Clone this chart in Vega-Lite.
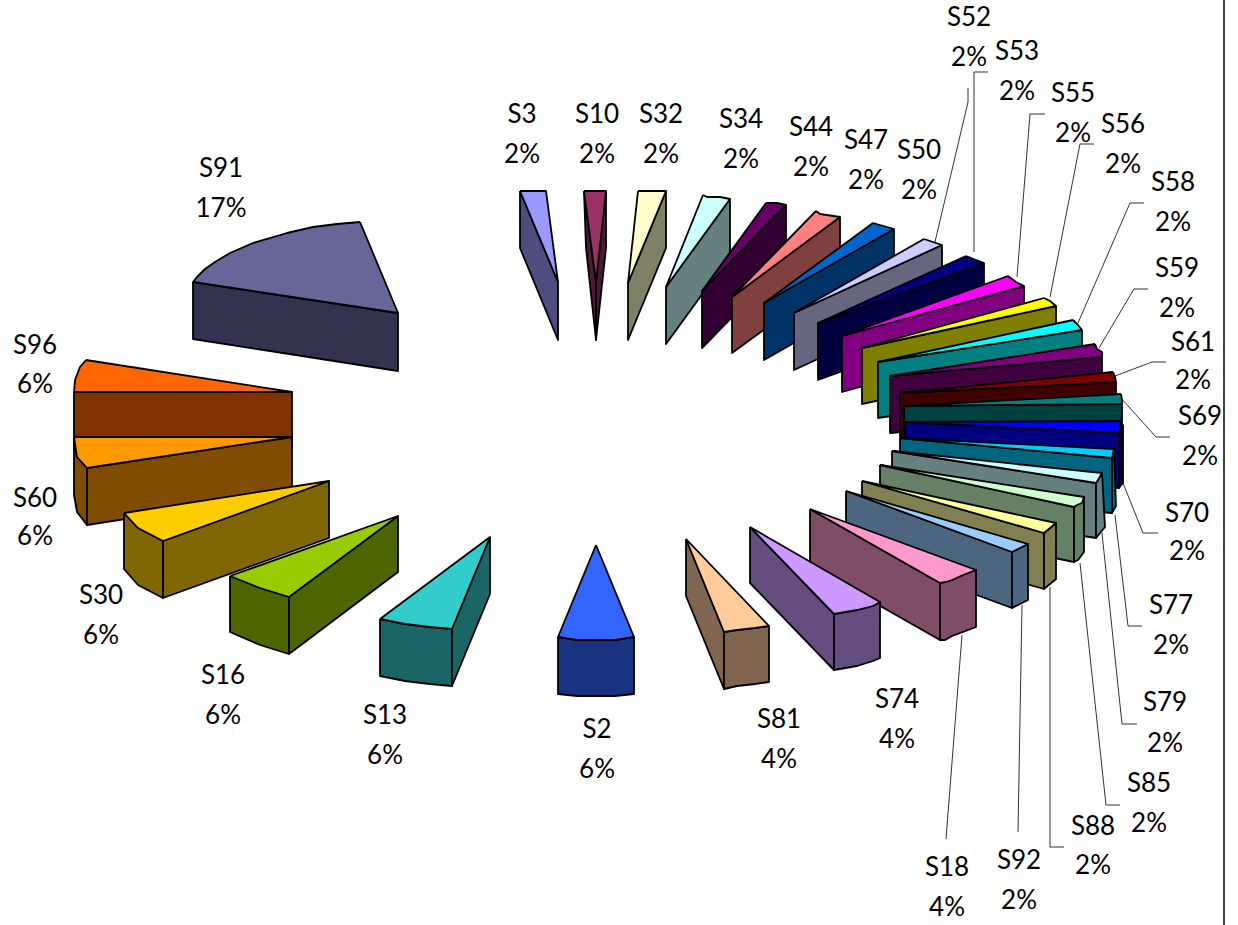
{
"$schema":"https://vega.github.io/schema/vega-lite/v6.json",
"width":1238,"height":925,"autosize":{"type":"none"},"padding":0,"background":"white",
"config":{"view":{"stroke":null}},
"datasets":{
"faces":[
{"face":"S3 side","part":"S3 side","x":[520,558,558,520,520],"y":[191,282,340,248,191]},
{"face":"S3 top","part":"S3 top","x":[520,546,558,520],"y":[191,191,282,191]},
{"face":"S10 side","part":"S10 side a","x":[584,596,596,586,584],"y":[191,282,340,248,191]},
{"face":"S10 side","part":"S10 side b","x":[606,596,596,606,606],"y":[191,282,340,248,191]},
{"face":"S10 top","part":"S10 top","x":[584,606,596,584],"y":[191,191,282,191]},
{"face":"S32 side","part":"S32 side","x":[666,666,628,628,666],"y":[191,248,340,283,191]},
{"face":"S32 top","part":"S32 top","x":[638,666,628,638],"y":[191,191,283,191]},
{"face":"S34 side","part":"S34 side","x":[730,730,666,666,730],"y":[199,256,344,287,199]},
{"face":"S34 top","part":"S34 top","x":[703,707,720,730,666,703],"y":[195,197,197,199,287,195]},
{"face":"S44 side","part":"S44 side","x":[786,786,702,702,786],"y":[205,262,348,291,205]},
{"face":"S44 top","part":"S44 top","x":[766,777,786,702,766],"y":[203,203,205,291,203]},
{"face":"S47 side","part":"S47 side","x":[840,840,732,732,840],"y":[217,274,353,297,217]},
{"face":"S47 top","part":"S47 top","x":[816,820,840,732,816],"y":[211,214,217,297,211]},
{"face":"S50 side","part":"S50 side","x":[894,894,764,764,894],"y":[229,286,360,303,229]},
{"face":"S50 top","part":"S50 top","x":[873,880,894,764,873],"y":[223,225,229,303,223]},
{"face":"S52 side","part":"S52 side","x":[942,942,794,794,942],"y":[245,302,370,313,245]},
{"face":"S52 top","part":"S52 top","x":[924,933,942,794,924],"y":[239,242,245,313,239]},
{"face":"S53 side","part":"S53 side","x":[984,984,818,818,984],"y":[263,320,380,323,263]},
{"face":"S53 top","part":"S53 top","x":[966,976,984,818,966],"y":[256,260,263,323,256]},
{"face":"S55 side","part":"S55 side","x":[1024,1024,842,842,1024],"y":[286,342,392,336,286]},
{"face":"S55 top","part":"S55 top","x":[1008,1016,1024,842,1008],"y":[276,282,286,336,276]},
{"face":"S56 side","part":"S56 side","x":[1056,1056,862,862,1056],"y":[306,362,404,348,306]},
{"face":"S56 top","part":"S56 top","x":[1044,1050,1056,862,1044],"y":[298,301,306,348,298]},
{"face":"S58 side","part":"S58 side","x":[1082,1082,878,878,1082],"y":[330,386,418,362,330]},
{"face":"S58 top","part":"S58 top","x":[1073,1078,1082,878,1073],"y":[320,325,330,362,320]},
{"face":"S59 side","part":"S59 side","x":[1102,1102,890,890,1102],"y":[357,413,433,376,357]},
{"face":"S59 top","part":"S59 top","x":[1095,1097,1102,1102,890,1095],"y":[344,349,352,357,376,344]},
{"face":"S61 side","part":"S61 side","x":[1116,1116,900,900,1116],"y":[382,438,437,393,382]},
{"face":"S61 top","part":"S61 top","x":[1113,1115,1116,900,1113],"y":[372,377,382,393,372]},
{"face":"S69 side","part":"S69 side","x":[1122,1122,904,904,1122],"y":[404,461,463,406,404]},
{"face":"S69 top","part":"S69 top","x":[1121,1122,1122,904,1121],"y":[394,400,404,406,394]},
{"face":"S70 edge","part":"S70 edge","x":[1119,1123,1123,1119,1119],"y":[433,425,483,488,433]},
{"face":"S70 side","part":"S70 side","x":[905,1119,1119,905,905],"y":[422,433,488,478,422]},
{"face":"S70 top","part":"S70 top","x":[1121,1121,1119,905,1121],"y":[421,425,433,422,421]},
{"face":"S77 side","part":"S77 side","x":[900,1112,1112,900,900],"y":[438,458,513,494,438]},
{"face":"S77 side","part":"S77 end","x":[1112,1114,1116,1112,1112],"y":[458,449,506,513,458]},
{"face":"S77 top","part":"S77 top","x":[900,1114,1112,900],"y":[438,449,458,438]},
{"face":"S79 side","part":"S79 side","x":[892,1096,1096,892,892],"y":[451,483,538,507,451]},
{"face":"S79 side","part":"S79 end","x":[1096,1102,1105,1096,1096],"y":[483,473,527,538,483]},
{"face":"S79 top","part":"S79 top","x":[892,1102,1098,1096,892],"y":[451,473,480,483,451]},
{"face":"S85 side","part":"S85 side","x":[880,1074,1074,880,880],"y":[465,507,562,522,465]},
{"face":"S85 side","part":"S85 end","x":[1074,1084,1084,1078,1074,1074],"y":[507,497,552,560,562,507]},
{"face":"S85 top","part":"S85 top","x":[880,1084,1082,1077,1074,880],"y":[465,497,503,505,507,465]},
{"face":"S88 side","part":"S88 side","x":[862,1044,1044,862,862],"y":[481,533,589,538,481]},
{"face":"S88 side","part":"S88 end","x":[1044,1056,1056,1044,1044],"y":[533,523,579,589,533]},
{"face":"S88 top","part":"S88 top","x":[862,1056,1050,1044,862],"y":[481,523,528,533,481]},
{"face":"S92 side","part":"S92 side","x":[846,1012,1012,846,846],"y":[491,552,608,547,491]},
{"face":"S92 side","part":"S92 end","x":[1012,1028,1028,1012,1012],"y":[552,544,600,608,552]},
{"face":"S92 top","part":"S92 top","x":[846,1028,1012,846],"y":[491,544,552,491]},
{"face":"S18 side","part":"S18 side","x":[810,940,940,810,810],"y":[509,583,640,566,509]},
{"face":"S18 side","part":"S18 end","x":[940,952,963,976,976,963,952,945,940,940],"y":[583,580,575,570,627,632,636,640,640,583]},
{"face":"S18 top","part":"S18 top","x":[810,976,963,952,946,940,810],"y":[509,570,575,580,582,583,509]},
{"face":"S74 side","part":"S74 side","x":[750,834,834,750,750],"y":[527,614,670,583,527]},
{"face":"S74 side","part":"S74 end","x":[834,857,873,880,880,873,857,834,834],"y":[614,610,606,602,658,661,666,670,614]},
{"face":"S74 top","part":"S74 top","x":[750,880,873,857,834,750],"y":[527,602,606,610,614,527]},
{"face":"S81 side","part":"S81 side","x":[686,724,724,686,686],"y":[539,632,689,596,539]},
{"face":"S81 side","part":"S81 end","x":[724,737,755,769,769,755,737,724,724],"y":[632,630,628,626,682,684,686,689,632]},
{"face":"S81 top","part":"S81 top","x":[686,769,755,737,724,686],"y":[539,626,628,630,632,539]},
{"face":"S91 side","part":"S91 side","x":[193,398,398,193,193],"y":[282,313,371,339,282]},
{"face":"S91 top","part":"S91 top","x":[360,398,193,197,205,215,230,253,287,313,337,360],"y":[222,313,282,277,269,262,253,243,233,227,224,222]},
{"face":"S96 side","part":"S96 side","x":[74,292,292,74,74],"y":[392,392,449,449,392]},
{"face":"S96 top","part":"S96 top","x":[86,292,74,75,80,86],"y":[360,392,392,380,367,360]},
{"face":"S60 side","part":"S60 end","x":[74,77,87,87,77,74,74],"y":[437,457,468,525,512,495,437]},
{"face":"S60 side","part":"S60 side","x":[292,87,87,292,292],"y":[437,468,525,493,437]},
{"face":"S60 top","part":"S60 top","x":[74,292,87,77,74],"y":[437,437,468,457,437]},
{"face":"S30 side","part":"S30 end","x":[124,138,163,163,138,124,124],"y":[513,528,541,598,585,569,513]},
{"face":"S30 side","part":"S30 side","x":[329,163,163,329,329],"y":[481,541,598,538,481]},
{"face":"S30 top","part":"S30 top","x":[124,329,163,138,124],"y":[513,481,541,528,513]},
{"face":"S16 side","part":"S16 end","x":[230,260,289,289,260,230,230],"y":[576,588,597,654,645,632,576]},
{"face":"S16 side","part":"S16 side","x":[398,289,289,398,398],"y":[516,597,654,572,516]},
{"face":"S16 top","part":"S16 top","x":[230,398,289,260,230],"y":[576,516,597,588,576]},
{"face":"S13 side","part":"S13 end","x":[380,405,430,452,452,430,405,380,380],"y":[619,624,627,629,686,684,681,676,619]},
{"face":"S13 side","part":"S13 side","x":[490,452,452,490,490],"y":[537,629,686,594,537]},
{"face":"S13 top","part":"S13 top","x":[380,490,452,430,405,380],"y":[619,537,629,627,624,619]},
{"face":"S2 side","part":"S2 side","x":[558,577,615,634,634,615,577,558,558],"y":[637,640,640,637,694,696,696,694,637]},
{"face":"S2 top","part":"S2 top","x":[596,634,615,577,558,596],"y":[545,637,640,640,637,545]}
],
"leaders":[
{"slice":"S52","x":[968,968,935],"y":[88,102,242]},
{"slice":"S53","x":[988,974,974],"y":[72,72,252]},
{"slice":"S55","x":[1045,1030,1017],"y":[114,114,277]},
{"slice":"S56","x":[1094,1080,1050],"y":[144,144,297]},
{"slice":"S58","x":[1144,1130,1078],"y":[203,203,323]},
{"slice":"S59","x":[1148,1134,1099],"y":[289,289,348]},
{"slice":"S61","x":[1166,1152,1115],"y":[362,362,376]},
{"slice":"S69","x":[1170,1156,1120],"y":[437,437,397]},
{"slice":"S70","x":[1158,1143,1123],"y":[533,533,483]},
{"slice":"S77","x":[1142,1128,1115],"y":[626,626,515]},
{"slice":"S79","x":[1137,1122,1102],"y":[724,724,533]},
{"slice":"S85","x":[1120,1106,1080],"y":[805,805,563]},
{"slice":"S88","x":[1064,1050,1050],"y":[847,847,587]},
{"slice":"S92","x":[1018,1022],"y":[832,605]},
{"slice":"S18","x":[946,962],"y":[839,635]}
],
"labels":[
{"slice":"S3","share":"2%","x":522,"y":115,"y2":155},
{"slice":"S10","share":"2%","x":597,"y":115,"y2":155},
{"slice":"S32","share":"2%","x":661,"y":115,"y2":155},
{"slice":"S34","share":"2%","x":741,"y":120,"y2":160},
{"slice":"S44","share":"2%","x":811,"y":128,"y2":168},
{"slice":"S47","share":"2%","x":866,"y":141,"y2":181},
{"slice":"S50","share":"2%","x":919,"y":151,"y2":191},
{"slice":"S52","share":"2%","x":969,"y":18,"y2":58},
{"slice":"S53","share":"2%","x":1017,"y":52,"y2":92},
{"slice":"S55","share":"2%","x":1073,"y":94,"y2":134},
{"slice":"S56","share":"2%","x":1123,"y":125,"y2":165},
{"slice":"S58","share":"2%","x":1173,"y":183,"y2":223},
{"slice":"S59","share":"2%","x":1177,"y":269,"y2":309},
{"slice":"S61","share":"2%","x":1193,"y":343,"y2":381},
{"slice":"S69","share":"2%","x":1200,"y":417,"y2":457},
{"slice":"S70","share":"2%","x":1187,"y":514,"y2":552},
{"slice":"S77","share":"2%","x":1171,"y":606,"y2":646},
{"slice":"S79","share":"2%","x":1165,"y":703,"y2":744},
{"slice":"S85","share":"2%","x":1149,"y":784,"y2":824},
{"slice":"S88","share":"2%","x":1093,"y":827,"y2":866},
{"slice":"S92","share":"2%","x":1019,"y":861,"y2":901},
{"slice":"S18","share":"4%","x":947,"y":868,"y2":908},
{"slice":"S74","share":"4%","x":897,"y":700,"y2":740},
{"slice":"S81","share":"4%","x":779,"y":720,"y2":760},
{"slice":"S2","share":"6%","x":597,"y":730,"y2":770},
{"slice":"S13","share":"6%","x":385,"y":716,"y2":756},
{"slice":"S16","share":"6%","x":223,"y":676,"y2":716},
{"slice":"S30","share":"6%","x":101,"y":596,"y2":636},
{"slice":"S60","share":"6%","x":35,"y":499,"y2":537},
{"slice":"S96","share":"6%","x":35,"y":346,"y2":385},
{"slice":"S91","share":"17%","x":221,"y":169,"y2":209}
],
"frame":[{"x":1224}]
},
"layer":[
{"data":{"name":"frame"},"mark":{"type":"rule","color":"#404040","strokeWidth":2},
 "encoding":{"x":{"field":"x","type":"quantitative","scale":{"domain":[0,1238],"range":[0,1238],"nice":false,"zero":false},"axis":null}}},
{"data":{"name":"leaders"},"transform":[{"flatten":["x","y"]},{"window":[{"op":"row_number","as":"vertex"}],"groupby":["slice"]}],
 "mark":{"type":"line","color":"#333333","strokeWidth":1,"strokeJoin":"miter"},
 "encoding":{
  "x":{"field":"x","type":"quantitative","scale":{"domain":[0,1238],"range":[0,1238],"nice":false,"zero":false},"axis":null},
  "y":{"field":"y","type":"quantitative","scale":{"domain":[925,0],"range":[925,0],"nice":false,"zero":false},"axis":null},
  "detail":{"field":"slice"},"order":{"field":"vertex","type":"quantitative"}}},
{"data":{"name":"faces"},"transform":[{"flatten":["x","y"]},{"window":[{"op":"row_number","as":"vertex"}],"groupby":["part"]}],
 "mark":{"type":"line","stroke":"black","strokeWidth":1.8,"strokeJoin":"round"},
 "encoding":{
  "x":{"field":"x","type":"quantitative","scale":{"domain":[0,1238],"range":[0,1238],"nice":false,"zero":false},"axis":null},
  "y":{"field":"y","type":"quantitative","scale":{"domain":[925,0],"range":[925,0],"nice":false,"zero":false},"axis":null},
  "detail":{"field":"part"},"order":{"field":"vertex","type":"quantitative"},
  "fill":{"field":"face","type":"nominal","legend":null,"scale":{
   "domain":["S3 top","S3 side","S10 top","S10 side","S32 top","S32 side","S34 top","S34 side","S44 top","S44 side","S47 top","S47 side","S50 top","S50 side","S52 top","S52 side","S53 top","S53 side","S55 top","S55 side","S56 top","S56 side","S58 top","S58 side","S59 top","S59 side","S61 top","S61 side","S69 top","S69 side","S70 top","S70 side","S70 edge","S77 top","S77 side","S79 top","S79 side","S85 top","S85 side","S88 top","S88 side","S92 top","S92 side","S18 top","S18 side","S74 top","S74 side","S81 top","S81 side","S91 top","S91 side","S96 top","S96 side","S60 top","S60 side","S30 top","S30 side","S16 top","S16 side","S13 top","S13 side","S2 top","S2 side"],
   "range":["#9999FF","#4D4D80","#993366","#4D1A33","#FFFFCC","#808066","#CCFFFF","#668080","#660066","#330033","#FF8080","#804040","#0066CC","#003366","#CCCCFF","#666680","#000080","#000040","#FF00FF","#800080","#FFFF00","#808000","#00FFFF","#008080","#800080","#400040","#800000","#400000","#008080","#004040","#0000FF","#000080","#000040","#00CCFF","#006680","#CCFFFF","#668080","#CCFFCC","#668066","#FFFF99","#808050","#99CCFF","#4D6680","#FF99CC","#804D66","#CC99FF","#664D80","#FFCC99","#806650","#666699","#333350","#FF6600","#803300","#FF9900","#804D00","#FFCC00","#806600","#99CC00","#4D6600","#33CCCC","#1A6666","#3366FF","#1A3380"]}}}},
{"data":{"name":"labels"},
 "mark":{"type":"text","font":"Lato","fontSize":26,"fill":"black","align":"center","baseline":"middle"},
 "encoding":{
  "x":{"field":"x","type":"quantitative","scale":{"domain":[0,1238],"range":[0,1238],"nice":false,"zero":false},"axis":null},
  "y":{"field":"y","type":"quantitative","scale":{"domain":[925,0],"range":[925,0],"nice":false,"zero":false},"axis":null},
  "text":{"field":"slice"}}},
{"data":{"name":"labels"},
 "mark":{"type":"text","font":"Lato","fontSize":26,"fill":"black","align":"center","baseline":"middle"},
 "encoding":{
  "x":{"field":"x","type":"quantitative","scale":{"domain":[0,1238],"range":[0,1238],"nice":false,"zero":false},"axis":null},
  "y":{"field":"y2","type":"quantitative","scale":{"domain":[925,0],"range":[925,0],"nice":false,"zero":false},"axis":null},
  "text":{"field":"share"}}}
]
}
